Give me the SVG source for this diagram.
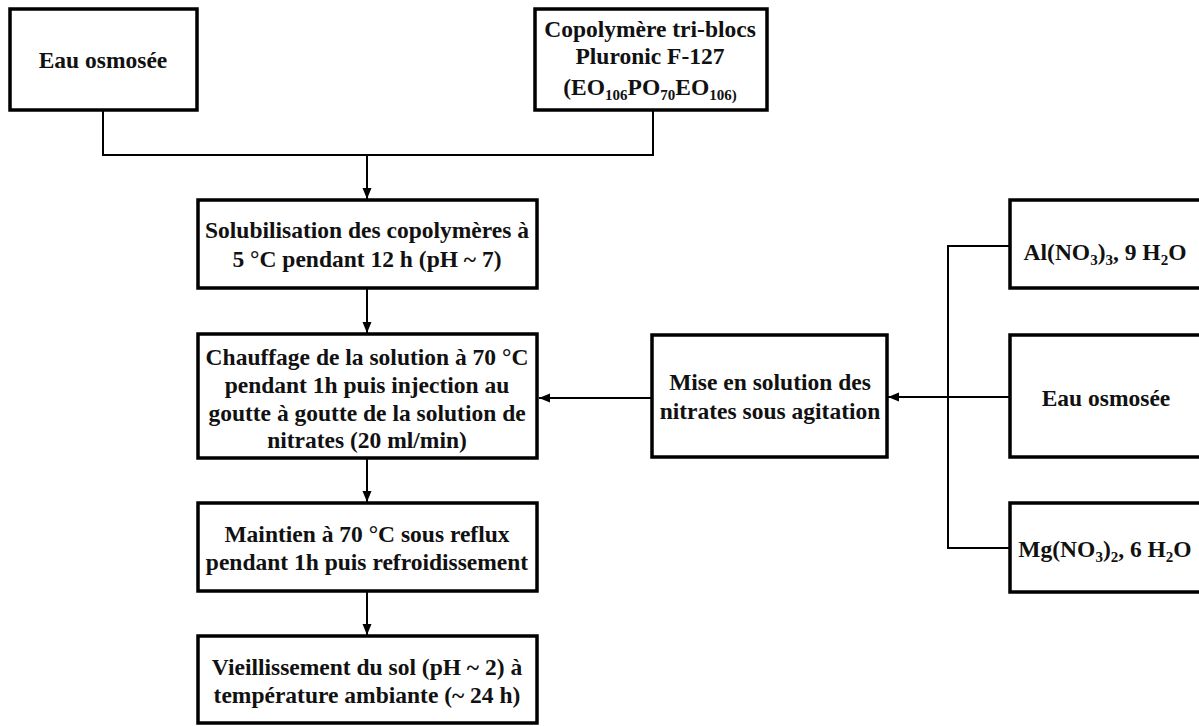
<svg xmlns="http://www.w3.org/2000/svg" width="1199" height="726" viewBox="0 0 1199 726">
<style>
.box{fill:#fff;stroke:#000;stroke-width:3.5}
.t{font-family:"Liberation Serif","Times New Roman",serif;font-weight:bold;font-size:23.5px;fill:#111;text-anchor:middle}
.s{font-size:15px}
.c{fill:none;stroke:#000;stroke-width:2}
</style>
<defs>
<marker id="ah" markerUnits="userSpaceOnUse" markerWidth="12" markerHeight="12" viewBox="0 0 12 12" refX="11" refY="6" orient="auto">
<path d="M0,1.5 L11,6 L0,10.5 Z" fill="#000"/>
</marker>
</defs>
<rect width="1199" height="726" fill="#fff"/>
<g id="connectors">
<path class="c" d="M103,111 V155 H653 V110"/>
<line class="c" x1="367" y1="155" x2="367" y2="199" marker-end="url(#ah)"/>
<line class="c" x1="367" y1="288" x2="367" y2="333" marker-end="url(#ah)"/>
<line class="c" x1="367" y1="458" x2="367" y2="502" marker-end="url(#ah)"/>
<line class="c" x1="367" y1="591" x2="367" y2="635" marker-end="url(#ah)"/>
<line class="c" x1="652" y1="398" x2="539" y2="398" marker-end="url(#ah)"/>
<line class="c" x1="1010" y1="397" x2="888" y2="397" marker-end="url(#ah)"/>
<path class="c" d="M1010,246 H948 V548 H1010"/>
</g>
<g id="n-eau1">
<rect class="box" x="10" y="9" width="187" height="101"/>
<text class="t" x="103" y="68">Eau osmosée</text>
</g>
<g id="n-copolymere">
<rect class="box" x="535" y="9" width="232" height="101"/>
<text class="t" x="650" y="37">Copolymère tri-blocs</text>
<text class="t" x="650" y="64">Pluronic F-127</text>
<text class="t" x="650" y="95">(EO<tspan class="s" dy="5">106</tspan><tspan dy="-5">PO</tspan><tspan class="s" dy="5">70</tspan><tspan dy="-5">EO</tspan><tspan class="s" dy="5">106)</tspan></text>
</g>
<g id="n-solubilisation">
<rect class="box" x="198" y="200" width="339" height="88"/>
<text class="t" x="367" y="238">Solubilisation des copolymères à</text>
<text class="t" x="367" y="267">5 °C pendant 12 h (pH ~ 7)</text>
</g>
<g id="n-chauffage">
<rect class="box" x="198" y="334" width="339" height="124"/>
<text class="t" x="367" y="365">Chauffage de la solution à 70 °C</text>
<text class="t" x="367" y="393">pendant 1h puis injection au</text>
<text class="t" x="367" y="421">goutte à goutte de la solution de</text>
<text class="t" x="367" y="448">nitrates (20 ml/min)</text>
</g>
<g id="n-maintien">
<rect class="box" x="198" y="503" width="339" height="88"/>
<text class="t" x="367" y="542">Maintien à 70 °C sous reflux</text>
<text class="t" x="367" y="570">pendant 1h puis refroidissement</text>
</g>
<g id="n-vieillissement">
<rect class="box" x="198" y="636" width="339" height="87"/>
<text class="t" x="367" y="675">Vieillissement du sol (pH ~ 2) à</text>
<text class="t" x="367" y="703">température ambiante (~ 24 h)</text>
</g>
<g id="n-mise">
<rect class="box" x="652" y="335" width="235" height="122"/>
<text class="t" x="770" y="390">Mise en solution des</text>
<text class="t" x="770" y="419">nitrates sous agitation</text>
</g>
<g id="n-al">
<rect class="box" x="1010" y="200" width="196" height="88"/>
<text class="t" x="1105" y="260">Al(NO<tspan class="s" dy="5">3</tspan><tspan dy="-5">)</tspan><tspan class="s" dy="5">3</tspan><tspan dy="-5">, 9 H</tspan><tspan class="s" dy="5">2</tspan><tspan dy="-5">O</tspan></text>
</g>
<g id="n-eau2">
<rect class="box" x="1010" y="335" width="196" height="122"/>
<text class="t" x="1106" y="406">Eau osmosée</text>
</g>
<g id="n-mg">
<rect class="box" x="1010" y="503" width="196" height="89"/>
<text class="t" x="1105" y="557">Mg(NO<tspan class="s" dy="5">3</tspan><tspan dy="-5">)</tspan><tspan class="s" dy="5">2</tspan><tspan dy="-5">, 6 H</tspan><tspan class="s" dy="5">2</tspan><tspan dy="-5">O</tspan></text>
</g>
</svg>
